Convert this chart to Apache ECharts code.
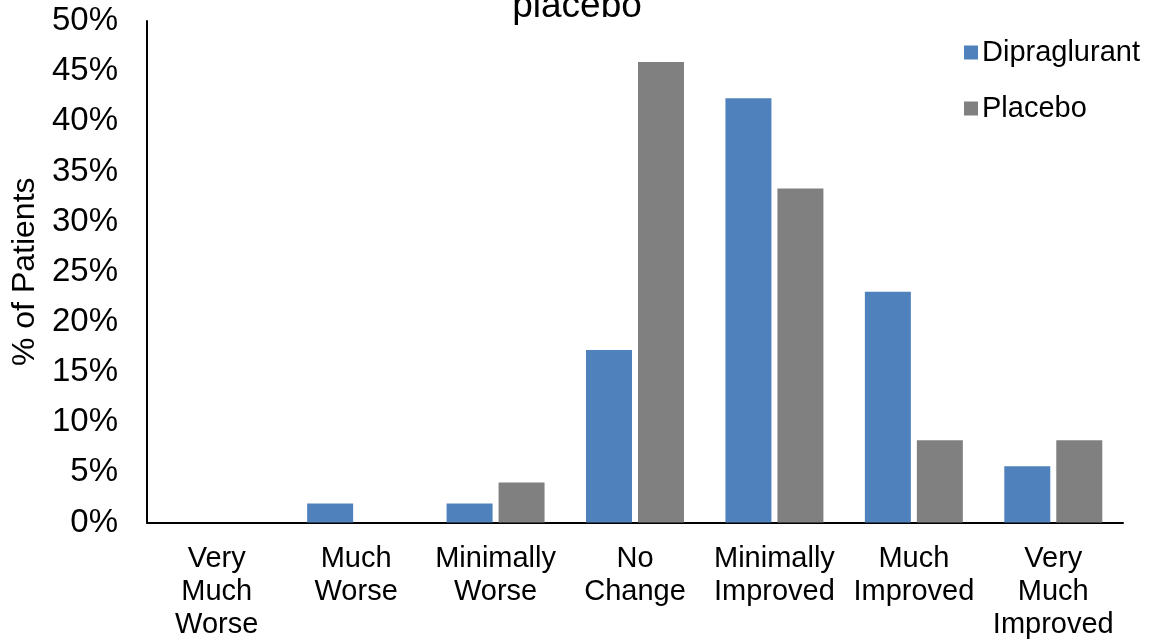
<!DOCTYPE html>
<html>
<head>
<meta charset="utf-8">
<style>
  html, body { margin: 0; padding: 0; background: #fff; }
  #chart { width: 1150px; height: 643px; }
</style>
<script src="https://cdn.jsdelivr.net/npm/echarts@6/dist/echarts.min.js"></script>
</head>
<body>
<div id="chart"></div>
<script>
// Categories of the clinical global impression of change scale
const categories = [
  'Very\nMuch\nWorse', 'Much\nWorse', 'Minimally\nWorse', 'No\nChange',
  'Minimally\nImproved', 'Much\nImproved', 'Very\nMuch\nImproved'
];
// Percentage of patients in each category
const dipraglurant = [0, 1.9, 1.9, 17.2, 42.3, 23.0, 5.6];
const placebo = [0, 0, 4.0, 45.9, 33.3, 8.2, 8.2];
const seriesNames = ['Dipraglurant', 'Placebo'];

const FONT = 'Liberation Sans, Arial, sans-serif';
const chart = echarts.init(document.getElementById('chart'));

chart.setOption({
  animation: false,
  backgroundColor: '#ffffff',
  title: {
    text: 'placebo',
    left: 577,
    textAlign: 'center',
    top: -12,
    padding: 0,
    textStyle: { fontFamily: FONT, fontSize: 37, fontWeight: 'normal', color: '#000' }
  },
  legend: {
    orient: 'vertical',
    left: 959,
    top: 33,
    itemWidth: 14,
    itemHeight: 14,
    itemGap: 27,
    icon: 'rect',
    data: seriesNames,
    textStyle: { fontFamily: FONT, fontSize: 29, color: '#000', padding: [0, 0, 0, -1] }
  },
  grid: { left: 147, right: 27, top: 21, bottom: 120.5, containLabel: false },
  xAxis: {
    type: 'category',
    data: categories,
    axisLine: { lineStyle: { color: '#000', width: 2 } },
    axisTick: { show: false },
    axisLabel: {
      interval: 0,
      margin: 20,
      fontFamily: FONT,
      fontSize: 29,
      lineHeight: 33,
      color: '#000',
      align: 'center'
    }
  },
  yAxis: {
    type: 'value',
    min: 0,
    max: 50,
    interval: 5,
    name: '% of Patients',
    nameLocation: 'middle',
    nameGap: 104,
    nameTextStyle: { fontFamily: FONT, fontSize: 32, color: '#000' },
    axisLine: { show: true, lineStyle: { color: '#000', width: 2 } },
    axisTick: { show: false },
    splitLine: { show: false },
    axisLabel: {
      margin: 29,
      fontFamily: FONT,
      fontSize: 33,
      color: '#000',
      formatter: v => v + '%'
    }
  },
  series: [
    {
      name: seriesNames[0],
      type: 'bar',
      data: dipraglurant,
      barWidth: 46,
      barGap: '13%',
      itemStyle: { color: '#4F81BD' }
    },
    {
      name: seriesNames[1],
      type: 'bar',
      data: placebo,
      barWidth: 46,
      barGap: '13%',
      itemStyle: { color: '#808080' }
    }
  ]
});
</script>
</body>
</html>
